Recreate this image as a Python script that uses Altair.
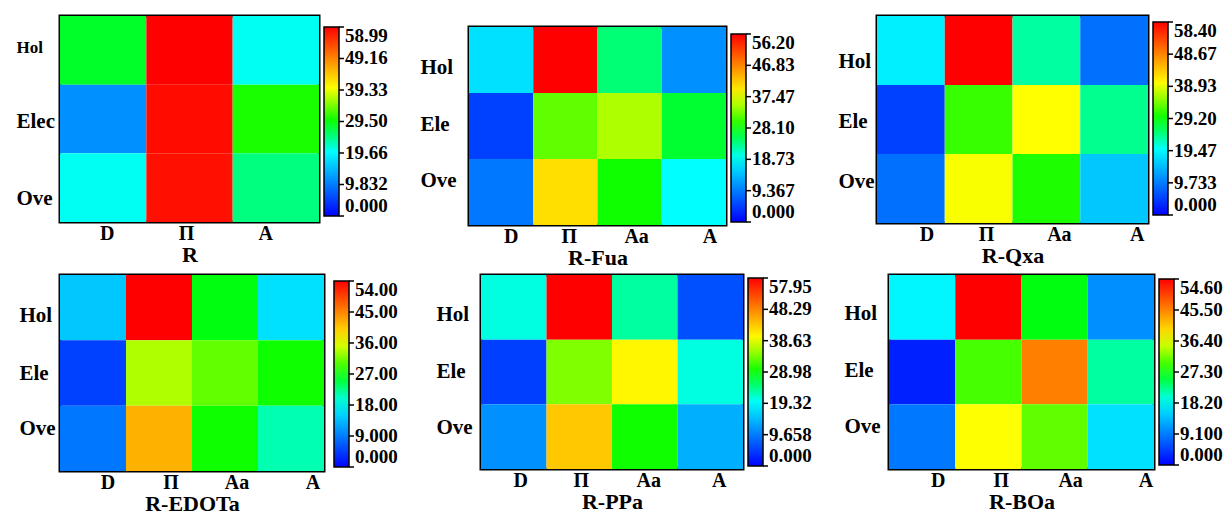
import altair as alt
import pandas as pd

# Axis categories
cols_r = ["D", "Π", "A"]
cols = ["D", "Π", "Aa", "A"]
rows_r = ["Hol", "Elec", "Ove"]
rows = ["Hol", "Ele", "Ove"]

# Cell values, one list per row (Hol, Ele, Ove)
vals_r = [[28.0, 58.99, 20.5], [11.3, 58.2, 30.5], [20.5, 57.8, 24.8]]
vals_fua = [[16.8, 56.20, 24.0, 10.8], [4.8, 31.9, 35.0, 26.4], [9.0, 40.5, 28.7, 19.1]]
vals_qxa = [[18.7, 58.40, 23.3, 8.8], [5.0, 31.5, 39.7, 24.0], [8.8, 39.5, 30.4, 15.6]]
vals_edota = [[14.4, 54.00, 26.5, 16.1], [4.6, 33.7, 30.7, 27.5], [8.6, 42.0, 27.5, 21.0]]
vals_ppa = [[20.8, 57.95, 23.2, 6.2], [4.9, 34.2, 40.0, 20.8], [11.1, 43.4, 29.6, 13.6]]
vals_boa = [[18.0, 54.60, 26.8, 10.4], [2.3, 30.0, 45.9, 21.8], [8.7, 37.1, 31.0, 16.4]]

# Colour-bar tick labels
ticks_r = [0, 9.832, 19.66, 29.50, 39.33, 49.16, 58.99]
ticks_fua = [0, 9.367, 18.73, 28.10, 37.47, 46.83, 56.20]
ticks_qxa = [0, 9.733, 19.47, 29.20, 38.93, 48.67, 58.40]
ticks_edota = [0, 9.000, 18.00, 27.00, 36.00, 45.00, 54.00]
ticks_ppa = [0, 9.658, 19.32, 28.98, 38.63, 48.29, 57.95]
ticks_boa = [0, 9.100, 18.20, 27.30, 36.40, 45.50, 54.60]

JET = ["#0000ff", "#00ffff", "#00ff00", "#ffff00", "#ff0000"]
JET_STOPS = [0, 0.34, 0.5, 0.68, 1.0]
FONT = "Liberation Serif"
CB_W = 15  # colour-bar thickness


def nudges(cats, shifts):
    """Per-label pixel nudges along an axis."""
    conds = [{"test": f"datum.value === '{c}'", "value": s}
             for c, s in zip(cats, shifts) if s]
    return {"condition": conds, "value": 0} if conds else 0


def panel(name, xcats, ycats, vals, ticks, w, h, cb_len, cb_x, cb_y, ypad,
          xshift, yshift, top_gap=0, cb_pad=0, small_hol=False):
    df = pd.DataFrame(
        [{"row": r, "col": c, "value": vals[i][j]}
         for i, r in enumerate(ycats) for j, c in enumerate(xcats)]
    )
    vmax = ticks[-1]
    label_size = ({"condition": {"test": "datum.value === 'Hol'", "value": 17}, "value": 21}
                  if small_hol else 21)
    heat = alt.Chart(df).mark_rect().encode(
        x=alt.X("col:N", sort=xcats, axis=alt.Axis(
            title=name, labelAngle=0, ticks=False, domain=False,
            labelFontSize=20, titleFontSize=22, labelPadding=1, titlePadding=1,
            labelOffset=nudges(xcats, xshift))),
        y=alt.Y("row:N", sort=ycats, axis=alt.Axis(
            title=None, ticks=False, domain=False, labelAlign="left",
            labelPadding=ypad, minExtent=ypad, labelFontSize=label_size,
            labelOffset=nudges(ycats, yshift))),
        color=alt.Color("value:Q",
            scale=alt.Scale(domain=[s * vmax for s in JET_STOPS], range=JET, interpolate="rgb"),
            legend=alt.Legend(
                title=None, values=ticks, orient="none",
                labelExpr="datum.value === 0 ? '0.000' : format(datum.value, '.4r')",
                legendX=w + cb_x - cb_pad, legendY=cb_y - cb_pad, padding=cb_pad,
                direction="vertical",
                gradientLength=cb_len, gradientThickness=CB_W,
                gradientStrokeColor="black", gradientStrokeWidth=1.5,
                labelFontSize=19, labelOffset=6)),
    ).properties(width=w, height=h)

    # small tick marks on the right edge of the colour bar
    bar_right = w + cb_x + CB_W
    cb_ticks = alt.Chart(pd.DataFrame({"tick": ticks})).mark_rule(
        color="black", strokeWidth=1.5
    ).encode(
        x=alt.value(bar_right), x2=alt.value(bar_right + 5),
        y=alt.Y("tick:Q", axis=None,
                scale=alt.Scale(domain=[0, vmax], range=[cb_y + cb_len, cb_y])),
    )
    body = alt.layer(heat, cb_ticks).resolve_scale(y="independent", color="independent")
    if not top_gap:
        return body
    # blank strip above the panel that lowers its frame
    spacer = alt.Chart(df).mark_rect(opacity=0).encode(
        x=alt.value(0), x2=alt.value(1), y=alt.value(0), y2=alt.value(1)
    ).properties(width=w, height=top_gap, view=alt.ViewBackground(strokeWidth=0))
    return alt.vconcat(spacer, body, spacing=0).resolve_scale(color="independent")


top = alt.hconcat(
    panel("R", cols_r, rows_r, vals_r, ticks_r, 259, 206, 189, 5, 11, 44,
          [4, -3, -10], [-2, 3, 11], small_hol=True),
    panel("R-Fua", cols, rows, vals_fua, ticks_fua, 257, 198, 188, 5, 7, 49,
          [10, 4, 7, 16], [8, -1, -11], top_gap=5, cb_pad=11),
    panel("R-Qxa", cols, rows, vals_qxa, ticks_qxa, 271, 207, 193, 5, 6, 39,
          [16, 8, 13, 23], [11, 2, -7]),
    spacing=28,
).resolve_scale(color="independent")

bottom = alt.hconcat(
    panel("R-EDOTa", cols, rows, vals_edota, ticks_edota, 264, 196, 186, 10, 6, 41,
          [15, 12, 12, 22], [8, 1, -9], cb_pad=8),
    panel("R-PPa", cols, rows, vals_ppa, ticks_ppa, 262, 194, 188, 5, 3, 45,
          [7, 2, 4, 9], [8, 0, -9], cb_pad=2),
    panel("R-BOa", cols, rows, vals_boa, ticks_boa, 265, 194, 186, 5, 4, 45,
          [16, 13, 16, 25], [7, -1, -10]),
    spacing=26,
).resolve_scale(color="independent")

chart = alt.vconcat(top, bottom, spacing=1).resolve_scale(color="independent").properties(
    padding={"left": 14, "top": 14, "right": 0, "bottom": 0}
).configure(
    font=FONT,
).configure_view(
    stroke="black", strokeWidth=3
).configure_axis(
    labelFont=FONT, titleFont=FONT, labelFontWeight="bold", titleFontWeight="bold",
    labelColor="black", titleColor="black",
).configure_legend(
    labelFont=FONT, labelFontWeight="bold", labelColor="black",
)

chart.save("out.html", embed_options={"renderer": "svg", "actions": False})
